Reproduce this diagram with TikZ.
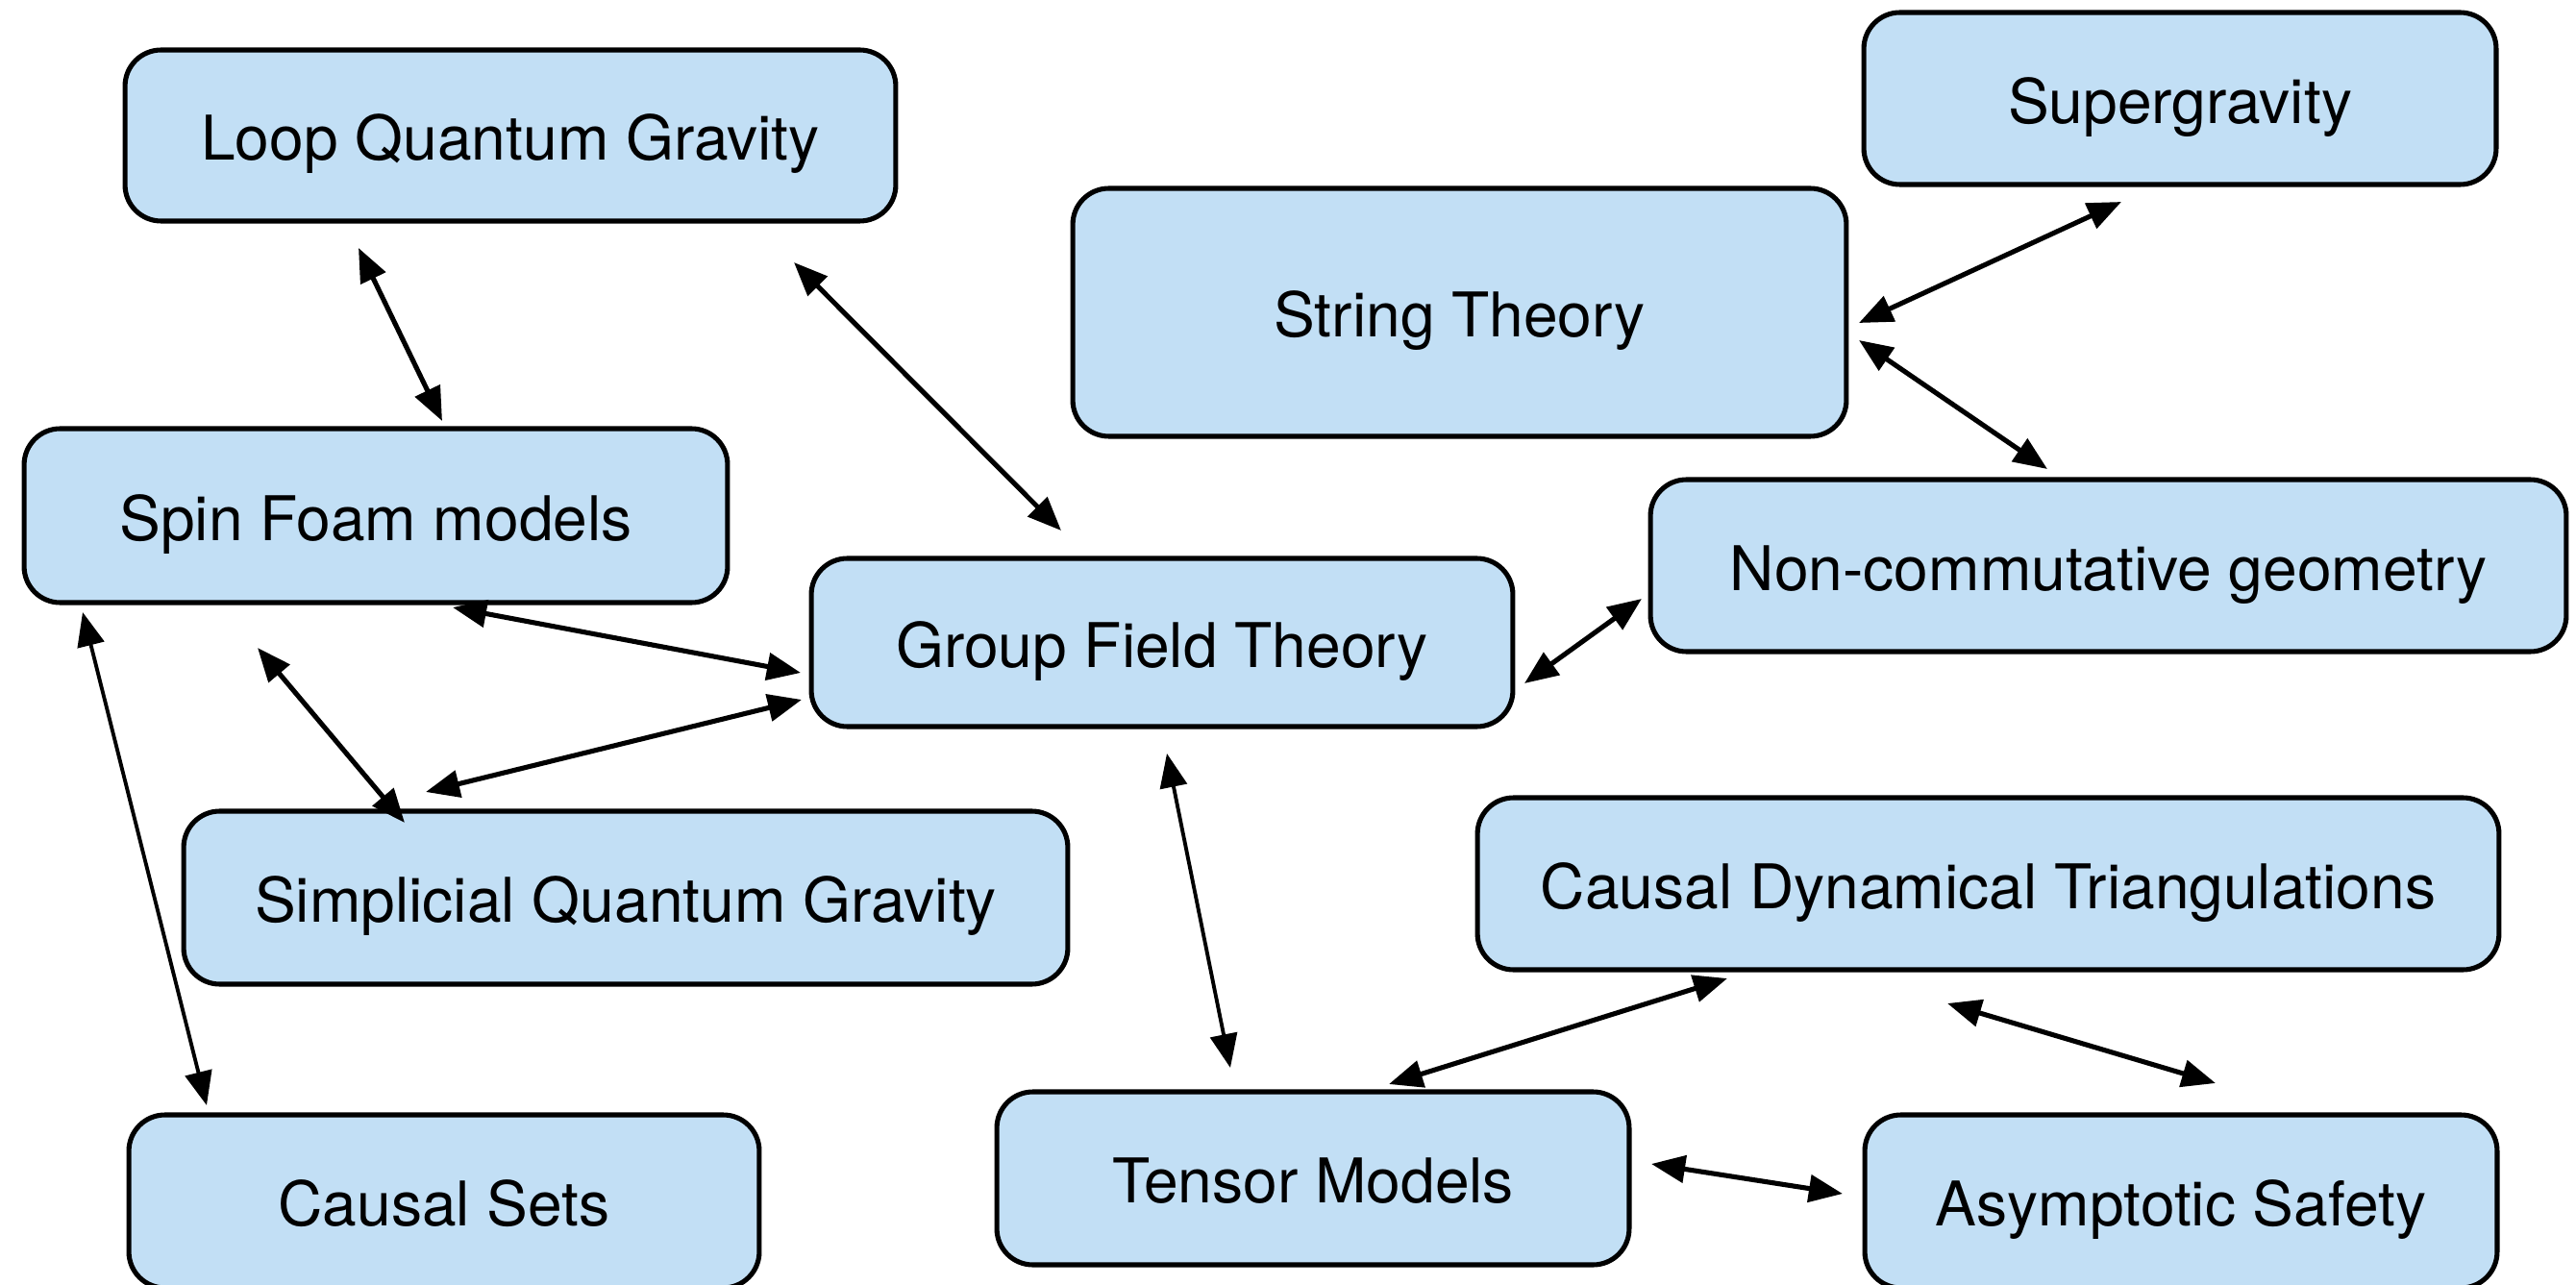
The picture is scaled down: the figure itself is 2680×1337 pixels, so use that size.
\documentclass[tikz,border=0pt]{standalone}
\usepackage{fontspec}
\setmainfont{TeX Gyre Heros}
\usetikzlibrary{arrows.meta}
\definecolor{boxblue}{RGB}{194,223,245}
\begin{document}
\begin{tikzpicture}[x=0.02cm,y=-0.02cm,
  theory/.style={draw=black,line width=2.9pt,fill=boxblue,rounded corners=0.75cm,
    inner sep=0pt,align=center,text height=29.5pt,text depth=0pt,
    font=\fontsize{36.5}{40}\selectfont},
  link/.style={<->,line width=2.9pt,>={Triangle[length=20pt,width=16pt]}},
  thinlink/.style={<->,line width=2.2pt,>={Triangle[length=20pt,width=16pt]}}]
\clip (0,0) rectangle (2680,1337);
\fill[white] (0,0) rectangle (2680,1337);
\node[theory,minimum width=16.04cm,minimum height=3.56cm] (lqg) at (531,141) {Loop Quantum Gravity};
\node[theory,minimum width=13.16cm,minimum height=3.58cm] (sg) at (2268,102.5) {Supergravity};
\node[theory,minimum width=16.1cm,minimum height=5.16cm] (st) at (1518.5,325) {String Theory};
\node[theory,minimum width=14.64cm,minimum height=3.62cm] (sf) at (391,536.5) {Spin Foam models};
\node[theory,minimum width=19.06cm,minimum height=3.58cm] (ncg) at (2193.5,588.5) {Non-commutative geometry};
\node[theory,minimum width=14.6cm,minimum height=3.5cm] (gft) at (1209,668.5) {Group Field Theory};
\node[theory,minimum width=18.4cm,minimum height=3.6cm] (sqg) at (651,934) {Simplicial Quantum Gravity};
\node[theory,minimum width=21.26cm,minimum height=3.58cm] (cdt) at (2068.5,919.5) {Causal Dynamical Triangulations};
\node[theory,minimum width=13.12cm,minimum height=3.6cm] (cs) at (462,1250) {Causal Sets};
\node[theory,minimum width=13.16cm,minimum height=3.6cm] (tm) at (1366,1226) {Tensor Models};
\node[theory,minimum width=13.16cm,minimum height=3.6cm] (as) at (2269,1250) {Asymptotic Safety};
% arrow end points
\coordinate (lqgA) at (373,258);  \coordinate (sfA) at (460,438);
\coordinate (lqgB) at (826,273);  \coordinate (gftB) at (1104,552);
\coordinate (sgA) at (2207,210);  \coordinate (stA) at (1934,336);
\coordinate (stB) at (1934,354);  \coordinate (ncgB) at (2130,488);
\coordinate (gftC) at (1586,711); \coordinate (ncgC) at (1708,623);
\coordinate (sfD) at (471,632);   \coordinate (gftD) at (833,700);
\coordinate (sfE) at (268,674);   \coordinate (sqgE) at (421,856);
\coordinate (gftF) at (834,728);  \coordinate (sqgF) at (443,824);
\coordinate (sfG) at (86,637);    \coordinate (csG) at (215,1150);
\coordinate (gftH) at (1214,784); \coordinate (tmH) at (1280,1111);
\coordinate (cdtI) at (1797,1018);\coordinate (tmI) at (1445,1128);
\coordinate (cdtJ) at (2026,1044);\coordinate (asJ) at (2305,1127);
\coordinate (tmK) at (1718,1211); \coordinate (asK) at (1917,1242);
\draw[link] (lqgA) -- (sfA);
\draw[link] (lqgB) -- (gftB);
\draw[link] (sgA) -- (stA);
\draw[link] (stB) -- (ncgB);
\draw[link] (gftC) -- (ncgC);
\draw[link] (sfD) -- (gftD);
\draw[link] (sfE) -- (sqgE);
\draw[link] (gftF) -- (sqgF);
\draw[thinlink] (sfG) -- (csG);
\draw[thinlink] (gftH) -- (tmH);
\draw[link] (cdtI) -- (tmI);
\draw[link] (cdtJ) -- (asJ);
\draw[link] (tmK) -- (asK);
\end{tikzpicture}
\end{document}
